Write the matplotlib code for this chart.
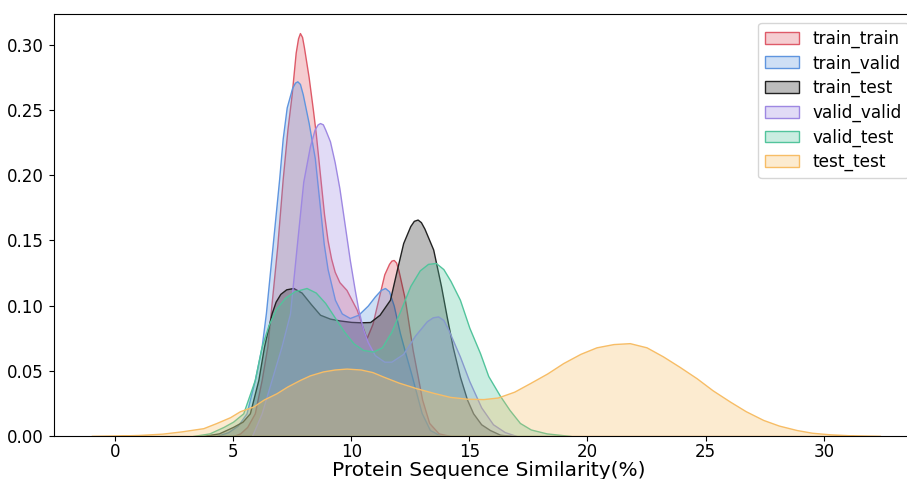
import matplotlib
matplotlib.use("Agg")

import matplotlib.pyplot as plt
from matplotlib.colors import to_rgba
from matplotlib.ticker import FormatStrFormatter

# ── Density curves (x = similarity %, y = density) ──

train_train_x = [5.0, 5.3, 5.6, 5.92, 6.21, 6.45, 6.59, 6.87, 7.10, 7.3, 7.48, 7.65, 7.75, 7.83,
                 7.92, 8.0, 8.2, 8.38, 8.5, 8.68, 8.85, 9.0, 9.15, 9.3, 9.5, 9.8, 10.23, 10.45,
                 10.65, 10.9, 11.15, 11.4, 11.6, 11.7, 11.8, 11.9, 12.0, 12.27, 12.6, 13.0, 13.3,
                 13.7, 14.2]
train_train_y = [0.0, 0.002, 0.007, 0.0174, 0.043, 0.0686, 0.0943, 0.1455, 0.197, 0.235, 0.262,
                 0.294, 0.305, 0.309, 0.306, 0.298, 0.275, 0.25, 0.232, 0.200, 0.170, 0.150,
                 0.136, 0.126, 0.118, 0.112, 0.097, 0.085, 0.075, 0.086, 0.105, 0.124, 0.132,
                 0.1345, 0.135, 0.133, 0.127, 0.105, 0.066, 0.028, 0.010, 0.002, 0.0]

train_valid_x = [4.3, 4.8, 5.2, 5.57, 5.92, 6.21, 6.39, 6.67, 6.95, 7.1, 7.27, 7.5, 7.62, 7.72,
                 7.83, 7.95, 8.2, 8.46, 8.65, 8.84, 9.0, 9.31, 9.6, 9.94, 10.3, 10.7, 11.0,
                 11.25, 11.43, 11.6, 11.8, 12.06, 12.3, 12.55, 12.98, 13.33, 13.8]
train_valid_y = [0.0, 0.003, 0.008, 0.0174, 0.043, 0.0686, 0.0943, 0.1455, 0.197, 0.228, 0.252,
                 0.267, 0.271, 0.272, 0.270, 0.262, 0.24, 0.213, 0.18, 0.147, 0.128, 0.1045,
                 0.094, 0.0905, 0.093, 0.100, 0.107, 0.112, 0.1135, 0.111, 0.100, 0.079, 0.063,
                 0.047, 0.0177, 0.0046, 0.0]

train_test_x = [3.7, 4.4, 5.0, 5.4, 5.71, 6.07, 6.31, 6.63, 6.8, 7.0, 7.25, 7.55, 7.9, 8.3,
                8.68, 9.1, 9.52, 10.0, 10.4, 10.8, 11.2, 11.64, 11.9, 12.2, 12.5, 12.65, 12.81,
                12.95, 13.1, 13.47, 13.8, 14.04, 14.3, 14.6, 14.9, 15.16, 15.5, 15.87, 16.3,
                16.8]
train_test_y = [0.0, 0.002, 0.007, 0.011, 0.0174, 0.043, 0.0686, 0.094, 0.103, 0.109, 0.1125,
                0.1135, 0.110, 0.101, 0.093, 0.090, 0.0886, 0.0875, 0.0872, 0.0874, 0.093,
                0.1045, 0.125, 0.148, 0.161, 0.165, 0.166, 0.164, 0.159, 0.143, 0.115, 0.0917,
                0.068, 0.0456, 0.028, 0.0174, 0.009, 0.0046, 0.001, 0.0]

valid_valid_x = [5.8, 6.21, 6.63, 7.05, 7.41, 7.69, 7.97, 8.25, 8.45, 8.58, 8.68, 8.8, 8.9,
                 9.1, 9.3, 9.5, 9.7, 9.94, 10.15, 10.3, 10.5, 10.7, 11.0, 11.4, 11.7, 12.2,
                 12.7, 13.2, 13.45, 13.68, 13.9, 14.1, 14.6, 15.0, 15.5, 16.0, 16.5, 17.0]
valid_valid_y = [0.0, 0.0174, 0.043, 0.0686, 0.094, 0.145, 0.195, 0.222, 0.235, 0.239, 0.240,
                 0.239, 0.235, 0.226, 0.210, 0.190, 0.165, 0.135, 0.112, 0.097, 0.082, 0.072,
                 0.062, 0.057, 0.057, 0.063, 0.077, 0.088, 0.091, 0.0917, 0.089, 0.082, 0.061,
                 0.042, 0.022, 0.009, 0.003, 0.0]

valid_test_x = [3.3, 4.0, 4.6, 5.0, 5.43, 5.92, 6.21, 6.5, 6.8, 7.2, 7.6, 8.11, 8.5, 8.9, 9.3,
                9.7, 10.1, 10.5, 10.93, 11.3, 11.7, 12.1, 12.5, 12.9, 13.25, 13.58, 13.9, 14.2,
                14.6, 15.0, 15.45, 15.8, 16.29, 16.7, 17.14, 17.6, 18.27, 19.3]
valid_test_y = [0.0, 0.002, 0.007, 0.011, 0.0174, 0.043, 0.0686, 0.085, 0.097, 0.106, 0.111,
                0.1135, 0.110, 0.102, 0.091, 0.080, 0.071, 0.066, 0.0648, 0.068, 0.080, 0.097,
                0.115, 0.127, 0.132, 0.1327, 0.128, 0.119, 0.1045, 0.083, 0.0636, 0.046, 0.031,
                0.020, 0.010, 0.005, 0.002, 0.0]

test_test_x = [-1.0, 0.0, 1.0, 2.0, 2.8, 3.74, 4.3, 4.87, 5.29, 5.85, 6.3, 6.84, 7.3, 7.83, 8.25,
               8.8, 9.3, 9.8, 10.4, 10.9, 11.35, 12.0, 12.77, 13.5, 14.18, 14.9, 15.59, 16.2,
               16.9, 17.56, 18.3, 18.97, 19.7, 20.38, 21.1, 21.79, 22.5, 23.2, 23.9, 24.62,
               25.3, 26.03, 26.7, 27.44, 28.1, 28.85, 29.5, 30.26, 31.3, 32.4]
test_test_y = [0.0, 0.0003, 0.0008, 0.0018, 0.0035, 0.006, 0.010, 0.0144, 0.019, 0.0226, 0.028,
               0.0328, 0.038, 0.043, 0.0465, 0.0495, 0.051, 0.0517, 0.051, 0.049, 0.0456, 0.041,
               0.0366, 0.033, 0.030, 0.0286, 0.0283, 0.0295, 0.034, 0.0405, 0.048, 0.0559, 0.063,
               0.068, 0.0705, 0.0712, 0.068, 0.061, 0.053, 0.0443, 0.035, 0.0264, 0.019, 0.0123,
               0.008, 0.0046, 0.0025, 0.0013, 0.0004, 0.0]

labels = ["train_train", "train_valid", "train_test", "valid_valid", "valid_test", "test_test"]
colors = ["#DE5A68", "#5F95DF", "#222222", "#9E88E2", "#52C49C", "#F7BD66"]
series = [
    (train_train_x, train_train_y),
    (train_valid_x, train_valid_y),
    (train_test_x, train_test_y),
    (valid_valid_x, valid_valid_y),
    (valid_test_x, valid_test_y),
    (test_test_x, test_test_y),
]

fig = plt.figure(figsize=(9.07, 4.79), dpi=100)
# the reference is cropped on the right, so the axes run a little past the edge
ax = fig.add_axes([53.5 / 907, 43 / 479, 869.5 / 907, 421.7 / 479])

for (xs, ys), label, color in zip(series, labels, colors):
    ax.fill_between(xs, ys, 0, facecolor=to_rgba(color, 0.3),
                    edgecolor=color, linewidth=1.0, label=label)

ax.set_xlim(-2.6, 34.2)
ax.set_ylim(0, 0.3234)
ax.set_xticks([0, 5, 10, 15, 20, 25, 30])
ax.set_yticks([0.0, 0.05, 0.10, 0.15, 0.20, 0.25, 0.30])
ax.yaxis.set_major_formatter(FormatStrFormatter("%.2f"))
ax.tick_params(labelsize=12)
ax.tick_params(axis="x", pad=1.8)
ax.set_xlabel("Protein Sequence Similarity(%)", fontsize=14.5, labelpad=0)

ax.legend(loc="upper right", bbox_to_anchor=(1 - 6 / 869.5, 1), fontsize=12.2,
          labelspacing=0.38)

fig.savefig("out.png", dpi=100)
